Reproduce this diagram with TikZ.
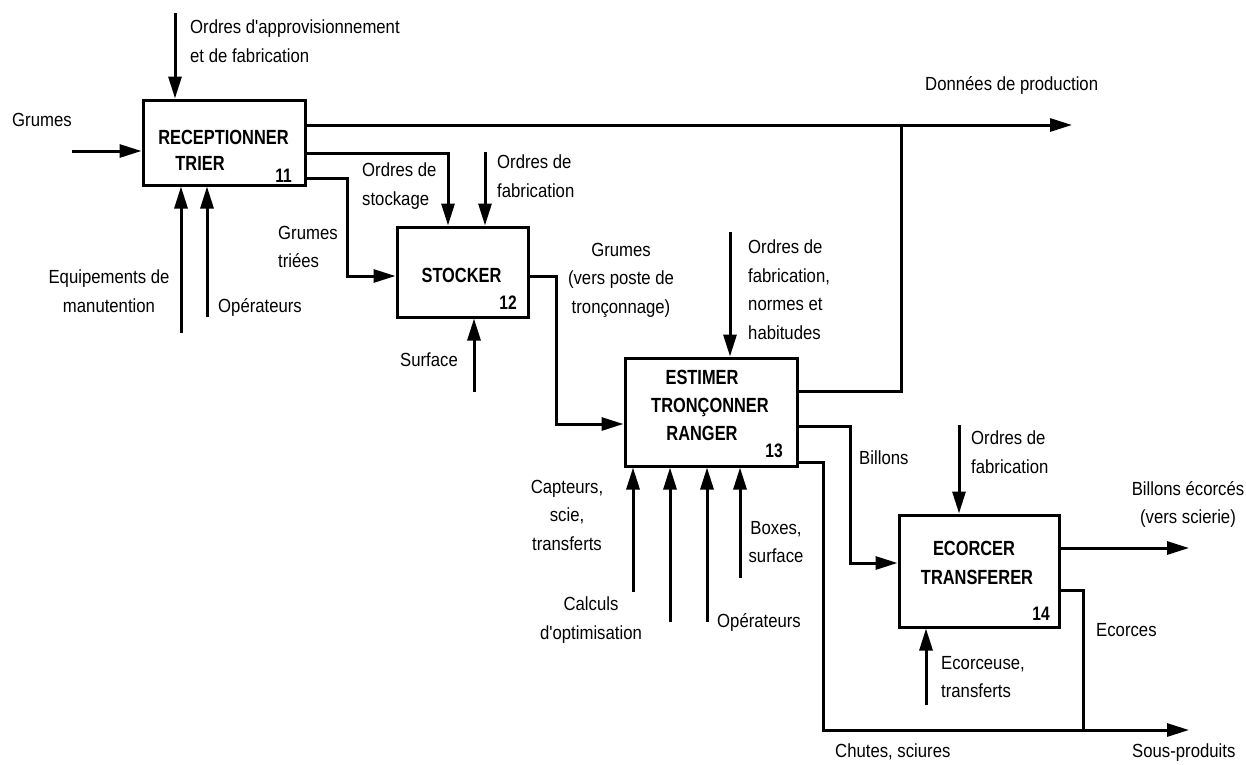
\documentclass[tikz,border=0pt]{standalone}
\usepackage{fontspec}
\setmainfont{Liberation Sans}
\newfontfamily\lblfont[FakeStretch=0.88]{Liberation Sans}
\newfontfamily\boxfont[FakeStretch=0.8]{Liberation Sans}
\usetikzlibrary{arrows.meta}
\tikzset{
  box/.style={draw, line width=3pt, inner sep=0pt},
  lbl/.style={font=\lblfont\fontsize{19}{28.5}\selectfont, inner sep=0pt},
  ttl/.style={font=\boxfont\bfseries\fontsize{20.5}{24}\selectfont, inner sep=0pt, anchor=base},
  num/.style={font=\boxfont\bfseries\fontsize{19.5}{24}\selectfont, inner sep=0pt, anchor=base east},
  flow/.style={line width=3pt, -{Triangle[length=22pt,width=13pt]}},
  wire/.style={line width=3pt},
}
\begin{document}
\begin{tikzpicture}[x=1pt,y=-1pt]
\useasboundingbox (0,0) rectangle (1246,764);
% boxes
\node[box, minimum width=162pt, minimum height=85pt] (b11) at (224,142.5) {};
\node[box, minimum width=131pt, minimum height=90pt] (b12) at (462.5,272) {};
\node[box, minimum width=172pt, minimum height=108pt] (b13) at (711,412) {};
\node[box, minimum width=160pt, minimum height=112pt] (b14) at (979,571) {};
% box titles
\node[ttl] (t11a) at (223.5,144) {RECEPTIONNER};
\node[ttl] (t11b) at (200,170) {TRIER};
\node[num] (n11) at (292,182) {11};
\node[ttl] (t12a) at (461.5,282) {STOCKER};
\node[num] (n12) at (517,309) {12};
\node[ttl] (t13a) at (702,384) {ESTIMER};
\node[ttl] (t13b) at (710,412) {TRONÇONNER};
\node[ttl] (t13c) at (702,440) {RANGER};
\node[num] (n13) at (783,457) {13};
\node[ttl] (t14a) at (974,555) {ECORCER};
\node[ttl] (t14b) at (977,584) {TRANSFERER};
\node[num] (n14) at (1050,620) {14};
% coordinates
\coordinate (src1) at (175,13);
\coordinate (src2) at (72,151);
\coordinate (src3) at (181,333);
\coordinate (src4) at (207,317);
\coordinate (dp) at (1072,125);
\coordinate (src5) at (485,152);
\coordinate (src6) at (474,392);
\coordinate (src7) at (730,232);
\coordinate (m1) at (633,592);
\coordinate (m2) at (670,622);
\coordinate (m3) at (707,622);
\coordinate (m4) at (740,578);
\coordinate (j1) at (901,125);
\coordinate (src8) at (959,425);
\coordinate (be) at (1189,548);
\coordinate (sp) at (1189,730);
\coordinate (j2) at (1083,730);
\coordinate (src9) at (926,705);
\coordinate (k1) at (448,153);
\coordinate (k2) at (347,178);
\coordinate (k2b) at (347,276);
\coordinate (k3) at (556,276);
\coordinate (k3b) at (556,424);
\coordinate (k4) at (901,391);
\coordinate (k5) at (850,426);
\coordinate (k5b) at (850,563);
\coordinate (k6) at (823,462);
\coordinate (k6b) at (823,730);
\coordinate (k7) at (1083,590);
% connectors box 11
\draw[flow] (src1) -- (src1 |- b11.north);
\draw[flow] (src2) -- (b11.west |- src2);
\draw[flow] (src3) -- (src3 |- b11.south);
\draw[flow] (src4) -- (src4 |- b11.south);
\draw[flow] (b11.east |- dp) -- (dp);
\draw[flow] (b11.east |- k1) -- (k1) -- (k1 |- b12.north);
\draw[flow] (b11.east |- k2) -- (k2) -- (k2b) -- (b12.west |- k2b);
% box 12
\draw[flow] (src5) -- (src5 |- b12.north);
\draw[flow] (src6) -- (src6 |- b12.south);
\draw[flow] (b12.east |- k3) -- (k3) -- (k3b) -- (b13.west |- k3b);
% box 13
\draw[flow] (src7) -- (src7 |- b13.north);
\draw[flow] (m1) -- (m1 |- b13.south);
\draw[flow] (m2) -- (m2 |- b13.south);
\draw[flow] (m3) -- (m3 |- b13.south);
\draw[flow] (m4) -- (m4 |- b13.south);
\draw[wire] (b13.east |- k4) -- (k4) -- (j1);
\draw[flow] (b13.east |- k5) -- (k5) -- (k5b) -- (b14.west |- k5b);
\draw[flow] (b13.east |- k6) -- (k6) -- (k6b) -- (sp);
% box 14
\draw[flow] (src8) -- (src8 |- b14.north);
\draw[flow] (src9) -- (src9 |- b14.south);
\draw[flow] (b14.east |- be) -- (be);
\draw[wire] (b14.east |- k7) -- (k7) -- (j2);
% labels
\node[lbl, anchor=north west, align=left] (l1) at (190,20) {Ordres d'approvisionnement\\et de fabrication};
\node[lbl, anchor=north west] (l2) at (12,113) {Grumes};
\node[lbl, anchor=north, align=center] (l3) at (109,270) {Equipements de\\manutention};
\node[lbl, anchor=north west] (l4) at (218,298) {Opérateurs};
\node[lbl, anchor=north west, align=left] (l5) at (362,163) {Ordres de\\stockage};
\node[lbl, anchor=north west, align=left] (l6) at (278,226) {Grumes\\triées};
\node[lbl, anchor=north west, align=left] (l7) at (497,155) {Ordres de\\fabrication};
\node[lbl, anchor=north west] (l8) at (400,353) {Surface};
\node[lbl, anchor=north, align=center] (l9) at (621,243) {Grumes\\(vers poste de\\tronçonnage)};
\node[lbl, anchor=north west, align=left] (l10) at (748,240) {Ordres de\\fabrication,\\normes et\\habitudes};
\node[lbl, anchor=north, align=center] (l11) at (567,480) {Capteurs,\\scie,\\transferts};
\node[lbl, anchor=north, align=center] (l12) at (591,597) {Calculs\\d'optimisation};
\node[lbl, anchor=north west] (l13) at (717,613) {Opérateurs};
\node[lbl, anchor=north, align=center] (l14) at (776,521) {Boxes,\\surface};
\node[lbl, anchor=north west] (l15) at (859,451) {Billons};
\node[lbl, anchor=north west, align=left] (l16) at (971,431) {Ordres de\\fabrication};
\node[lbl, anchor=north, align=center] (l17) at (1188,481) {Billons écorcés\\(vers scierie)};
\node[lbl, anchor=north west] (l18) at (925,76) {Données de production};
\node[lbl, anchor=north west] (l19) at (1096,623) {Ecorces};
\node[lbl, anchor=north west, align=left] (l20) at (941,656) {Ecorceuse,\\transferts};
\node[lbl, anchor=north west] (l21) at (835,744) {Chutes, sciures};
\node[lbl, anchor=north west] (l22) at (1132,744) {Sous-produits};
\end{tikzpicture}
\end{document}
